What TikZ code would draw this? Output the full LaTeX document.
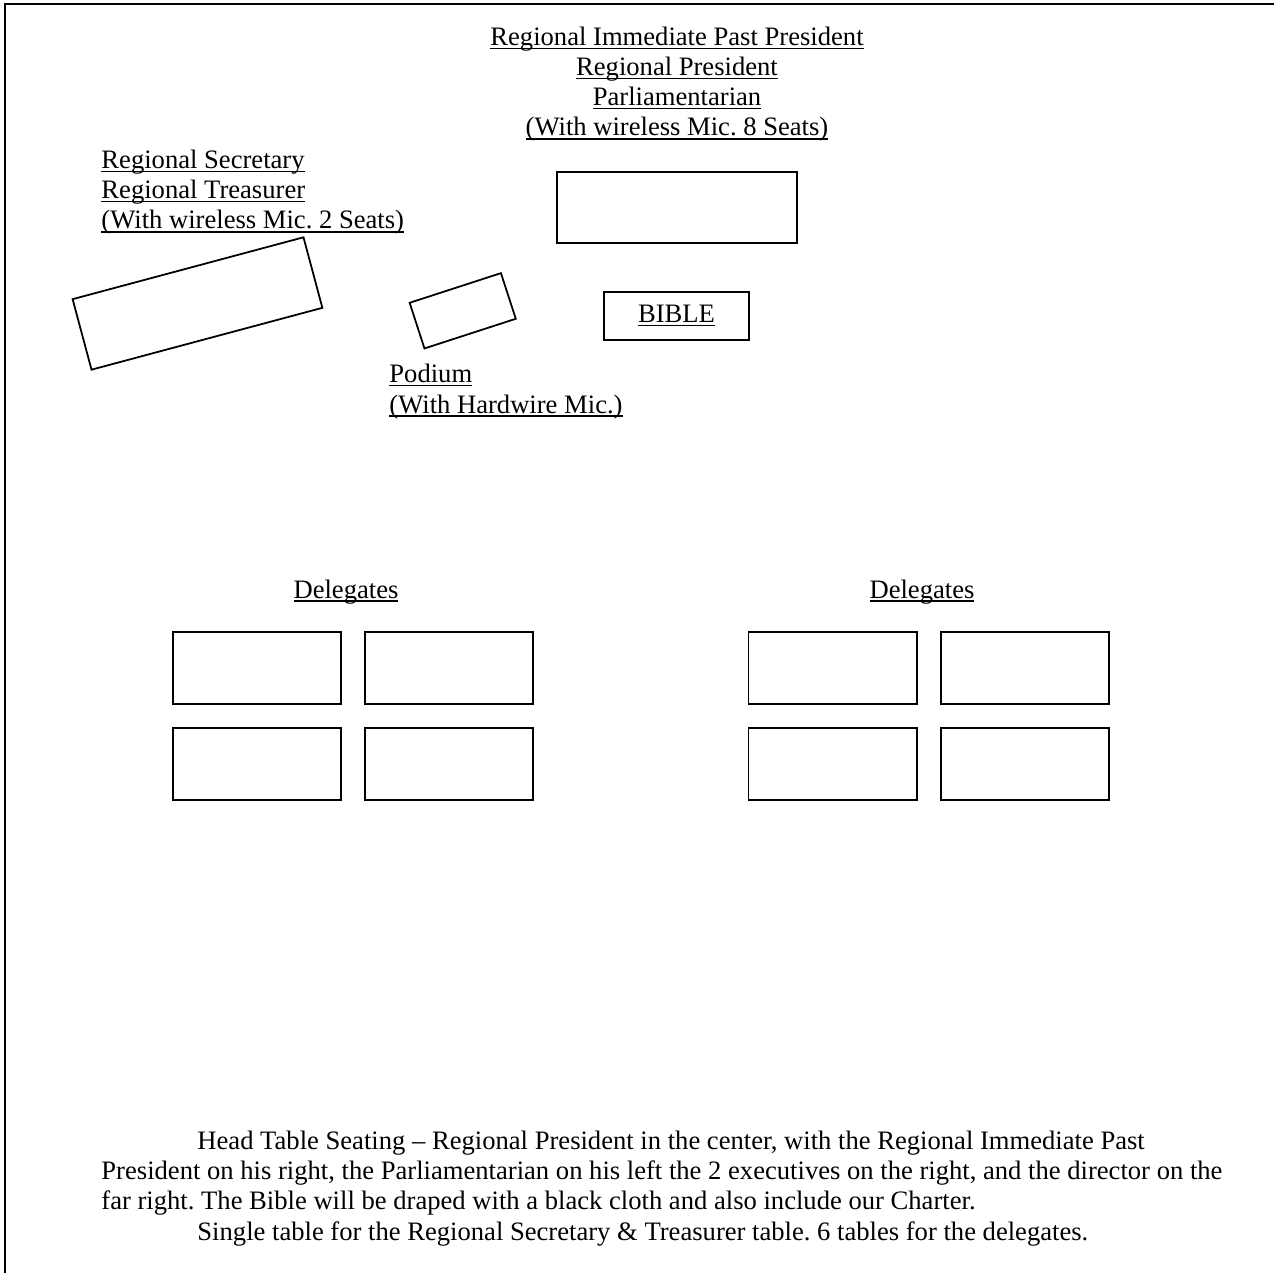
\documentclass[tikz,border=0pt]{standalone}
\usepackage{fontspec}
\setmainfont{Liberation Serif}
\frenchspacing
\newcommand{\pxu}{0.451pt}
\newcommand{\uln}[1]{\setbox0\hbox{#1}\rlap{\rule[-1.6pt]{\wd0}{0.6pt}}\box0}
\tikzset{
  tablebox/.style={draw, line width=0.8pt, inner sep=0pt},
  plantext/.style={font=\fontsize{12pt}{13.6pt}\selectfont, inner sep=0pt},
  delegatebox/.style={tablebox, minimum width=168.6*\pxu, minimum height=72.5*\pxu}
}
\begin{document}
\begin{tikzpicture}[x=\pxu, y=-\pxu]
            \useasboundingbox (0,0) rectangle (1274,1273);
            % Page edge
            \draw[line width=0.9pt] (5,1273) -- (5,4) -- (1274,4);

            % Head table
            \node[plantext, align=center, anchor=base] (headlabel) at (677,136) {\uln{Regional Immediate Past President}\\ \uln{Regional President}\\ \uln{Parliamentarian}\\ \uln{(With wireless Mic. 8 Seats)}};
            \node[tablebox, minimum width=240*\pxu, minimum height=71*\pxu] (headtable) at (677,207.5) {};

            % Secretary and Treasurer table
            \node[plantext, align=left, anchor=base west] (seclabel) at (101,229) {\uln{Regional Secretary}\\ \uln{Regional Treasurer}\\ \uln{(With wireless Mic. 2 Seats)}};
            \node[tablebox, minimum width=239*\pxu, minimum height=73*\pxu, rotate=15] (sectable) at (197.5,303.5) {};

            % Podium
            \node[tablebox, minimum width=96*\pxu, minimum height=48*\pxu, rotate=18] (podium) at (462.7,310.8) {};
            \node[plantext, align=left, anchor=base west] (podiumlabel) at (389,413) {\uln{Podium}\\ \uln{(With Hardwire Mic.)}};

            % Bible
            \node[tablebox, plantext, minimum width=145*\pxu, minimum height=48*\pxu] (bible) at (676.5,316) {\uln{BIBLE}};

            % Delegates, left group
            \node[plantext, anchor=base] (delleft) at (346,598) {\uln{Delegates}};
            \node[delegatebox] (dl1) at (257,668) {};
            \node[delegatebox] (dl2) at (449,668) {};
            \node[delegatebox] (dl3) at (257,764) {};
            \node[delegatebox] (dl4) at (449,764) {};

            % Delegates, right group
            \node[plantext, anchor=base] (delright) at (922,598) {\uln{Delegates}};
            \node[delegatebox] (dr1) at (832.7,668) {};
            \node[delegatebox] (dr2) at (1025,668) {};
            \node[delegatebox] (dr3) at (832.7,764) {};
            \node[delegatebox] (dr4) at (1025,764) {};

            % Notes
            \node[plantext, align=left, anchor=base west] (notes) at (101,1240) {\hspace*{43.3pt}Head Table Seating – Regional President in the center, with the Regional Immediate Past\\ President on his right, the Parliamentarian on his left the 2 executives on the right, and the director on the\\ far right. The Bible will be draped with a black cloth and also include our Charter.\\ \hspace*{43.3pt}Single table for the Regional Secretary \& Treasurer table. 6 tables for the delegates.};
        \end{tikzpicture}
\end{document}
